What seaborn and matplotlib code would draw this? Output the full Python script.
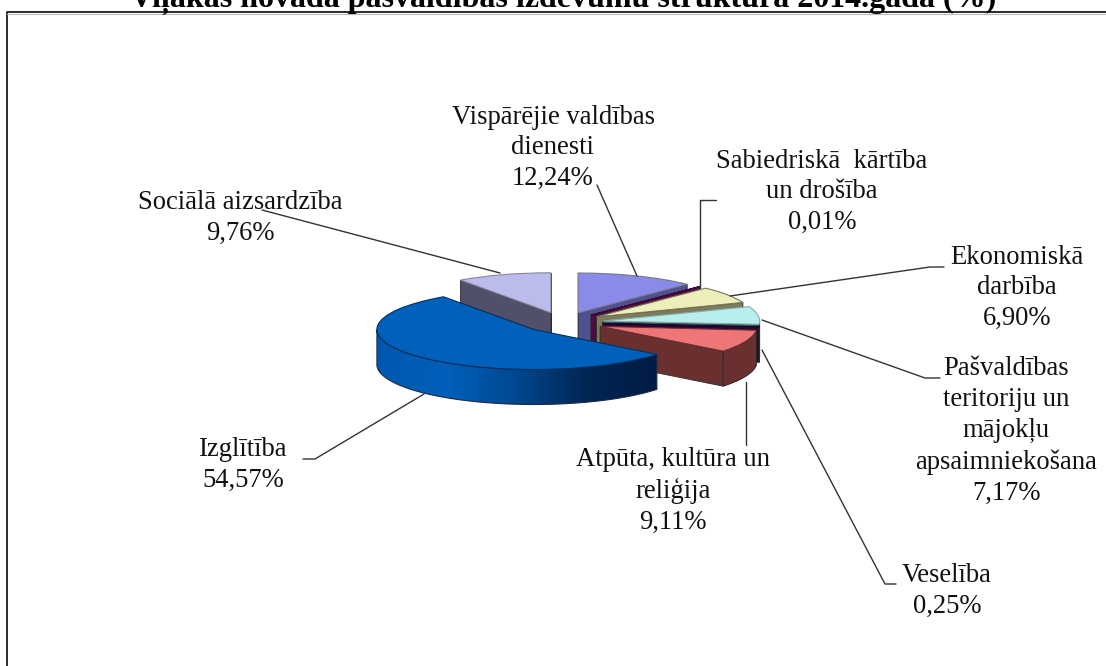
import numpy as np
import matplotlib
matplotlib.use("Agg")
import matplotlib.pyplot as plt
import seaborn as sns

# data, clockwise from 12 o'clock
names = ["Vispārējie valdības\ndienesti", "Sabiedriskā  kārtība\nun drošība", "Ekonomiskā\ndarbība",
         "Pašvaldības\nteritoriju un\nmājokļu\napsaimniekošana", "Veselība",
         "Atpūta, kultūra un\nreliģija", "Izglītība", "Sociālā aizsardzība"]
shares = [12.24, 0.01, 6.90, 7.17, 0.25, 9.11, 54.57, 9.76]
share_text = ["12,24%", "0,01%", "6,90%", "7,17%", "0,25%", "9,11%", "54,57%", "9,76%"]

top_colors = ["#8A8AE8", "#5A1048", "#EEEEBB", "#B8EEEC", "#3A0A4A", "#EE7676", "#0060BA", "#BBBBEC"]
side_colors = ["#50508E", "#4E0C40", "#7C7C5A", "#2F5A5A", "#2A0636", "#6A3030", "#00478F", "#50506A"]
edge_colors = ["#77778A", "#3A0830", "#77775A", "#88AAAA", "#20042A", "#6A3030", "#00305F", "#88889A"]
blue_ramp = ["#0058AE", "#0060BA", "#00478F", "#002652", "#001C44"]

# label centre x, centre y of the block
label_x = [553, 822, 1017, 1006, 947, 673, 243, 240]
label_y = [148, 192, 288, 431, 591, 491, 465, 218]

leaders = [
    ([597, 637], [185, 276]),
    ([716, 700, 700], [200, 200, 288]),
    ([944, 930, 730], [267, 267, 296]),
    ([940, 925, 762], [378, 378, 320]),
    ([896, 885, 762], [584, 584, 350]),
    ([746, 746], [445, 382]),
    ([303, 315, 424], [459, 459, 394]),
    ([262, 500], [210, 273]),
]

W, H = 1106, 666
CX, CY, RX, RY = 563, 322.5, 157, 40
DEPTH = 35 / RY
draw_order = [7, 0, 1, 2, 3, 4, 5, 6]

sns.set_theme(style="white")
plt.rcParams["font.family"] = ["Liberation Serif", "DejaVu Serif"]

fig = plt.figure(figsize=(W / 100, H / 100), dpi=100, facecolor="white")
ax = fig.add_axes([0, 0, 1, 1])

wedges, _ = ax.pie(shares, explode=[0.255] * len(shares), colors=top_colors,
                   startangle=90, counterclock=False, radius=1,
                   wedgeprops={"linewidth": 0.8})

ramp = np.array(sns.blend_palette(blue_ramp, 256))

for rank, i in enumerate(draw_order):
    w = wedges[i]
    z = 10 * rank + 2
    w.set_zorder(z + 1)
    w.set_edgecolor(edge_colors[i])
    cx, cy = w.center
    t1, t2 = np.radians(w.theta1), np.radians(w.theta2)

    # cut faces, only those turned towards the viewer
    for t, seen in ((t1, np.cos(t1) > 0), (t2, np.cos(t2) < 0)):
        if seen:
            px, py = cx + np.cos(t), cy + np.sin(t)
            ax.fill([cx, px, px, cx], [cy, py, py - DEPTH, cy - DEPTH],
                    facecolor=side_colors[i], edgecolor="#2A2A2A", linewidth=0.6, zorder=z)

    # outer wall, front half only
    ts = np.linspace(t1, t2, max(int(np.degrees(t2 - t1) * 2), 2) + 1)
    ts = ts[np.sin(ts) <= 0.0]
    if len(ts) < 2:
        continue
    xs = cx + np.cos(ts)
    ys = cy + np.sin(ts)
    wx = np.r_[xs, xs[::-1]]
    wy = np.r_[ys, ys[::-1] - DEPTH]
    if i == 6:
        # side of the big slice gets darker towards the right
        poly = ax.fill(wx, wy, facecolor="none", edgecolor="#1E2A44", linewidth=0.8, zorder=z + 0.6)[0]
        img = ax.imshow(ramp[None, :, :], extent=(xs.min(), xs.max(), wy.min(), wy.max()),
                        aspect="auto", zorder=z + 0.5, interpolation="bilinear")
        img.set_clip_path(poly)
    else:
        ax.fill(wx, wy, facecolor=side_colors[i], edgecolor="#2A2A2A", linewidth=0.7, zorder=z + 0.5)

ax.set_aspect("auto")
ax.set_xlim(-CX / RX, (W - CX) / RX)
ax.set_ylim(-(H - CY) / RY, CY / RY)

# overlay in picture pixels for the frame, labels and leader lines
ov = fig.add_axes([0, 0, 1, 1], facecolor="none")
ov.set_xlim(0, W)
ov.set_ylim(H, 0)
ov.axis("off")

ov.plot([7, 7, W], [H, 12, 12], color="#1A1A1A", lw=1.3, clip_on=False)
ov.plot([7, W], [13.5, 13.5], color="#BBBBBB", lw=0.8)

for xs, ys in leaders:
    ov.plot(xs, ys, color="#333333", lw=1.0)

for name, pct, x, y in zip(names, share_text, label_x, label_y):
    ov.text(x, y, name + "\n" + pct, ha="center", va="center", ma="center",
            fontsize=19.2, linespacing=1.31, color="#111111")

ov.text(563, 7, "Viļakas novada pašvaldības izdevumu struktūra 2014.gadā (%)",
        ha="center", va="baseline", fontsize=23, fontweight="bold", color="black")

fig.savefig("out.png", dpi=100, facecolor="white")
